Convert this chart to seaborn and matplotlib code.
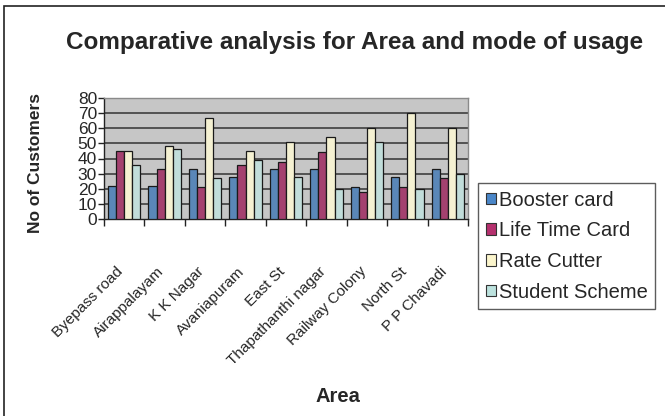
import matplotlib
matplotlib.use("Agg")
import matplotlib.pyplot as plt
import matplotlib.patches as mpatches
import seaborn as sns
import pandas as pd
import numpy as np

# Survey counts per area for each card scheme
areas = ["Byepass road", "Airappalayam", "K K Nagar", "Avaniapuram", "East St",
         "Thapathanthi nagar", "Railway Colony", "North St", "P P Chavadi"]
schemes = ["Booster card", "Life Time Card", "Rate Cutter", "Student Scheme"]
booster_card = [22, 22, 33, 28, 33, 33, 21, 28, 33]
life_time_card = [45, 33, 21, 36, 38, 44, 18, 21, 27]
rate_cutter = [45, 48, 67, 45, 51, 54, 60, 70, 60]
student_scheme = [36, 46, 27, 39, 28, 20, 51, 20, 30]
y_ticks = [0, 10, 20, 30, 40, 50, 60, 70, 80]

colors = ["#4A86C8", "#B5306E", "#FBF5CC", "#BCE2DE"]

df = pd.DataFrame({
    "Area": areas * 4,
    "Scheme": [s for s in schemes for _ in areas],
    "Customers": booster_card + life_time_card + rate_cutter + student_scheme,
})

sns.set_theme(style="white")
plt.rcParams["font.family"] = ["Liberation Sans", "DejaVu Sans"]

fig = plt.figure(figsize=(6.65, 4.16), dpi=100)
ax = fig.add_axes([104 / 665, 1 - 219 / 416, 364 / 665, 121 / 416])
ax.set_facecolor("#C6C6C6")

sns.barplot(data=df, x="Area", y="Customers", hue="Scheme", order=areas,
            hue_order=schemes, palette=colors, width=0.8, gap=0,
            edgecolor="#1a1a1a", linewidth=0.9, ax=ax, legend=False,
            zorder=3)

ax.set_ylim(0, 80)
ax.set_xlim(-0.5, len(areas) - 0.5)
ax.set_yticks(y_ticks)
ax.set_yticklabels([str(t) for t in y_ticks], fontsize=12.5)
for t in y_ticks[1:]:
    ax.axhline(t, color="#333333", lw=1.1, zorder=1)

# category boundaries carry the x ticks
ax.set_xticks(np.arange(-0.5, len(areas)), minor=False)
ax.set_xticklabels([])
ax.tick_params(axis="x", which="major", length=5, width=1, color="#222222",
               direction="out", bottom=True)
ax.tick_params(axis="y", length=4, width=1, color="#222222", direction="out",
               left=True, pad=1)
for i, name in enumerate(areas):
    ax.text(i - 0.2, -30, name, rotation=45, ha="right", va="top",
            rotation_mode="anchor", fontsize=11, transform=ax.transData)

for side in ["top", "right"]:
    ax.spines[side].set_color("#8a8a8a")
    ax.spines[side].set_linewidth(1)
for side in ["left", "bottom"]:
    ax.spines[side].set_color("#222222")
    ax.spines[side].set_linewidth(1)
ax.set_xlabel("")
ax.set_ylabel("")

fig.text(355 / 665, 1 - 43 / 416, "Comparative analysis for Area and mode of usage",
         ha="center", va="center", fontsize=17.5, fontweight="bold")
fig.text(36 / 665, 1 - 163 / 416, "No of Customers", rotation=90,
         ha="center", va="center", fontsize=12.5, fontweight="bold")
fig.text(338 / 665, 1 - 396 / 416, "Area", ha="center", va="center",
         fontsize=14.5, fontweight="bold")

handles = [mpatches.Patch(facecolor=c, edgecolor="#333333", lw=0.8, label=s)
           for c, s in zip(colors, schemes)]
leg = fig.legend(handles=handles, loc="upper left",
                 bbox_to_anchor=(478 / 665, 1 - 183 / 416),
                 fontsize=14.5, frameon=True, fancybox=False, shadow=False,
                 handlelength=0.5, handleheight=0.5, handletextpad=0.15,
                 labelspacing=0.58, borderpad=0.38, borderaxespad=0)
leg.get_frame().set_edgecolor("#333333")
leg.get_frame().set_linewidth(1)

# outer chart frame
fig.add_artist(mpatches.Rectangle((4 / 665, -0.1), 1.2, 1 - 6 / 416 + 0.1,
                                  transform=fig.transFigure, fill=False,
                                  edgecolor="#222222", lw=1.2))

fig.savefig("out.png", dpi=100)
